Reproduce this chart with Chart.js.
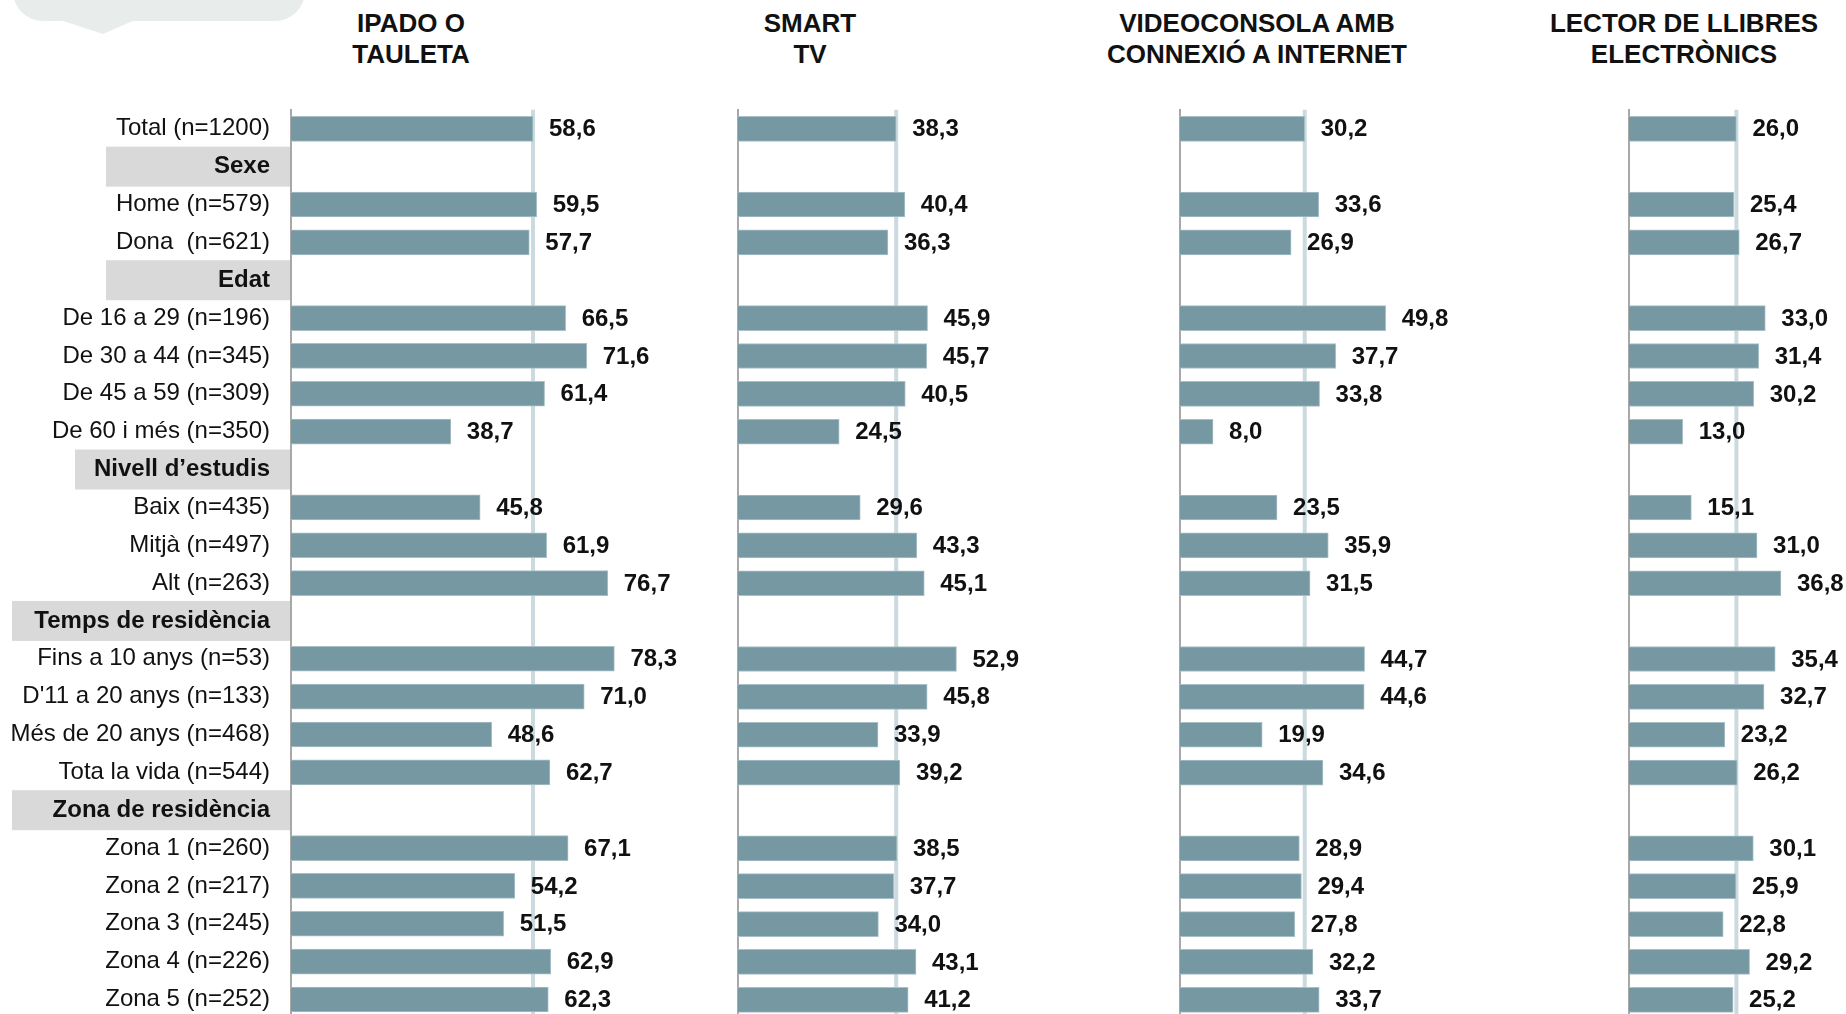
<!DOCTYPE html>
<html>
<head>
<meta charset="utf-8">
<script src="https://cdn.jsdelivr.net/npm/chart.js@4/dist/chart.umd.min.js"></script>
<style>
  html, body { margin:0; padding:0; background:#fff; }
  body { width:1846px; height:1014px; overflow:hidden; position:relative; font-family:"Liberation Sans", Arial, sans-serif; }
  canvas { position:absolute; top:0; }
  .title { position:absolute; top:8px; width:400px; text-align:center; font-weight:bold; font-size:26px; line-height:31px; color:#111; white-space:nowrap; }
  .bubble { position:absolute; left:13px; top:-20px; width:292px; height:41px; background:#e8ecea; border-radius:0 0 30px 30px; }
  .tip { position:absolute; left:60px; top:20px; width:0; height:0; border-left:43px solid transparent; border-right:32px solid transparent; border-top:14px solid #e8ecea; }
</style>
</head>
<body>
<div class="bubble"></div><div class="tip"></div>

<script>
// ---- DATA ----
const categories = [
  'Total (n=1200)', 'Sexe', 'Home (n=579)', 'Dona  (n=621)',
  'Edat', 'De 16 a 29 (n=196)', 'De 30 a 44 (n=345)', 'De 45 a 59 (n=309)', 'De 60 i més (n=350)',
  'Nivell d’estudis', 'Baix (n=435)', 'Mitjà (n=497)', 'Alt (n=263)',
  'Temps de residència', 'Fins a 10 anys (n=53)', "D'11 a 20 anys (n=133)", 'Més de 20 anys (n=468)', 'Tota la vida (n=544)',
  'Zona de residència', 'Zona 1 (n=260)', 'Zona 2 (n=217)', 'Zona 3 (n=245)', 'Zona 4 (n=226)', 'Zona 5 (n=252)'
];
const groupHeaders = ['Sexe', 'Edat', 'Nivell d’estudis', 'Temps de residència', 'Zona de residència'];

const panelTitles = [
  ['IPADO O', 'TAULETA'],
  ['SMART', 'TV'],
  ['VIDEOCONSOLA AMB', 'CONNEXIÓ A INTERNET'],
  ['LECTOR DE LLIBRES', 'ELECTRÒNICS']
];

const ipadTauleta = [58.6, null, 59.5, 57.7, null, 66.5, 71.6, 61.4, 38.7, null, 45.8, 61.9, 76.7, null, 78.3, 71.0, 48.6, 62.7, null, 67.1, 54.2, 51.5, 62.9, 62.3];
const smartTv     = [38.3, null, 40.4, 36.3, null, 45.9, 45.7, 40.5, 24.5, null, 29.6, 43.3, 45.1, null, 52.9, 45.8, 33.9, 39.2, null, 38.5, 37.7, 34.0, 43.1, 41.2];
const videoconsola= [30.2, null, 33.6, 26.9, null, 49.8, 37.7, 33.8, 8.0,  null, 23.5, 35.9, 31.5, null, 44.7, 44.6, 19.9, 34.6, null, 28.9, 29.4, 27.8, 32.2, 33.7];
const lectorLlibres=[26.0, null, 25.4, 26.7, null, 33.0, 31.4, 30.2, 13.0, null, 15.1, 31.0, 36.8, null, 35.4, 32.7, 23.2, 26.2, null, 30.1, 25.9, 22.8, 29.2, 25.2];

const panelValues = [ipadTauleta, smartTv, videoconsola, lectorLlibres];
const referenceValues = [58.6, 38.3, 30.2, 26.0];   // Total, drawn as reference line
const axisMax = 100;

// ---- STYLE / LAYOUT ----
const FONT = '"Liberation Sans", Arial, sans-serif';
const axisX = [291, 737.5, 1180, 1629];
const titleCenters = [411, 810, 1257, 1684];
const headerBoxLeft = [106, 106, 75, 12, 12];
const plotW = 413;
const canvasH = 1040;
const firstRowY = 128.8, lastRowY = 999.8;
const rowStep = (lastRowY - firstRowY) / 23;
const barColor = '#7698a3';

// titles
panelTitles.forEach((t, i) => {
  const d = document.createElement('div');
  d.className = 'title';
  d.style.left = (titleCenters[i] - 200) + 'px';
  d.innerHTML = t.join('<br>');
  document.body.appendChild(d);
});

const fmt = v => v.toFixed(1).replace('.', ',');

const refLinePlugin = {
  id: 'refLine',
  beforeDatasetsDraw(chart, args, opts) {
    const {ctx, chartArea} = chart;
    const x = chart.scales.x.getPixelForValue(opts.value);
    ctx.save();
    ctx.strokeStyle = '#cbdadf';
    ctx.lineWidth = 4;
    ctx.beginPath();
    ctx.moveTo(x, chartArea.top);
    ctx.lineTo(x, chartArea.bottom);
    ctx.stroke();
    ctx.restore();
  }
};

const valueLabelPlugin = {
  id: 'valueLabels',
  afterDatasetsDraw(chart) {
    const {ctx} = chart;
    const ds = chart.data.datasets[0];
    const meta = chart.getDatasetMeta(0);
    ctx.save();
    ctx.font = 'bold 24px ' + FONT;
    ctx.fillStyle = '#111';
    ctx.textAlign = 'left';
    ctx.textBaseline = 'middle';
    meta.data.forEach((bar, i) => {
      const v = ds.data[i];
      if (v === null || v === undefined) return;
      ctx.fillText(fmt(v), bar.x + 16, bar.y + 1);
    });
    ctx.restore();
  }
};

const headerBoxPlugin = {
  id: 'headerBoxes',
  beforeDraw(chart, args, opts) {
    if (!opts.enabled) return;
    const {ctx} = chart;
    const y = chart.scales.y;
    ctx.save();
    ctx.fillStyle = '#d9d9d9';
    groupHeaders.forEach((h, k) => {
      const idx = categories.indexOf(h);
      const cy = y.getPixelForValue(idx);
      const left = headerBoxLeft[k];
      ctx.fillRect(left, cy - 20, 290 - left, 40);
    });
    ctx.restore();
  }
};

panelValues.forEach((vals, i) => {
  const first = i === 0;
  const yW = first ? axisX[0] : 10;
  const cv = document.createElement('canvas');
  const w = yW + plotW;
  cv.width = w; cv.height = canvasH;
  cv.style.width = w + 'px'; cv.style.height = canvasH + 'px';
  cv.style.left = (axisX[i] - yW) + 'px';
  document.body.appendChild(cv);

  const ch = new Chart(cv.getContext('2d'), {
    type: 'bar',
    data: {
      labels: categories,
      datasets: [{
        data: vals,
        backgroundColor: barColor,
        borderColor: '#a9c0c7',
        borderWidth: {top: 1, bottom: 1, right: 1, left: 0},
        borderSkipped: false,
        barThickness: 25
      }]
    },
    options: {
      indexAxis: 'y',
      responsive: false,
      animation: false,
      devicePixelRatio: 1,
      layout: { padding: { top: firstRowY - rowStep / 2, bottom: canvasH - (lastRowY + rowStep / 2), left: 0, right: 0 } },
      plugins: {
        legend: { display: false },
        tooltip: { enabled: false },
        title: { display: false },
        refLine: { value: referenceValues[i] },
        headerBoxes: { enabled: first }
      },
      scales: {
        x: { display: false, min: 0, max: axisMax },
        y: {
          type: 'category',
          offset: true,
          grid: { display: false, drawTicks: false },
          border: { display: true, color: '#a8a8a8', width: 2 },
          ticks: {
            display: first,
            autoSkip: false,
            padding: 21,
            color: '#111',
            font: (ctx) => ({
              family: FONT,
              size: 24,
              lineHeight: 0.05,
              weight: groupHeaders.includes(categories[ctx.index]) ? 'bold' : 'normal'
            })
          },
          afterFit: (scale) => { scale.width = yW; }
        }
      }
    },
    plugins: [headerBoxPlugin, refLinePlugin, valueLabelPlugin]
  });

  // align the category rows to the intended vertical positions
  for (let k = 0; k < 5; k++) {
    const ys = ch.scales.y;
    const p = ch.options.layout.padding;
    const dt = firstRowY - ys.getPixelForValue(0);
    const db = ys.getPixelForValue(categories.length - 1) - lastRowY;
    if (Math.abs(dt) < 0.05 && Math.abs(db) < 0.05) break;
    p.top += dt;
    p.bottom += db;
    ch.update();
  }
});
</script>
</body>
</html>
